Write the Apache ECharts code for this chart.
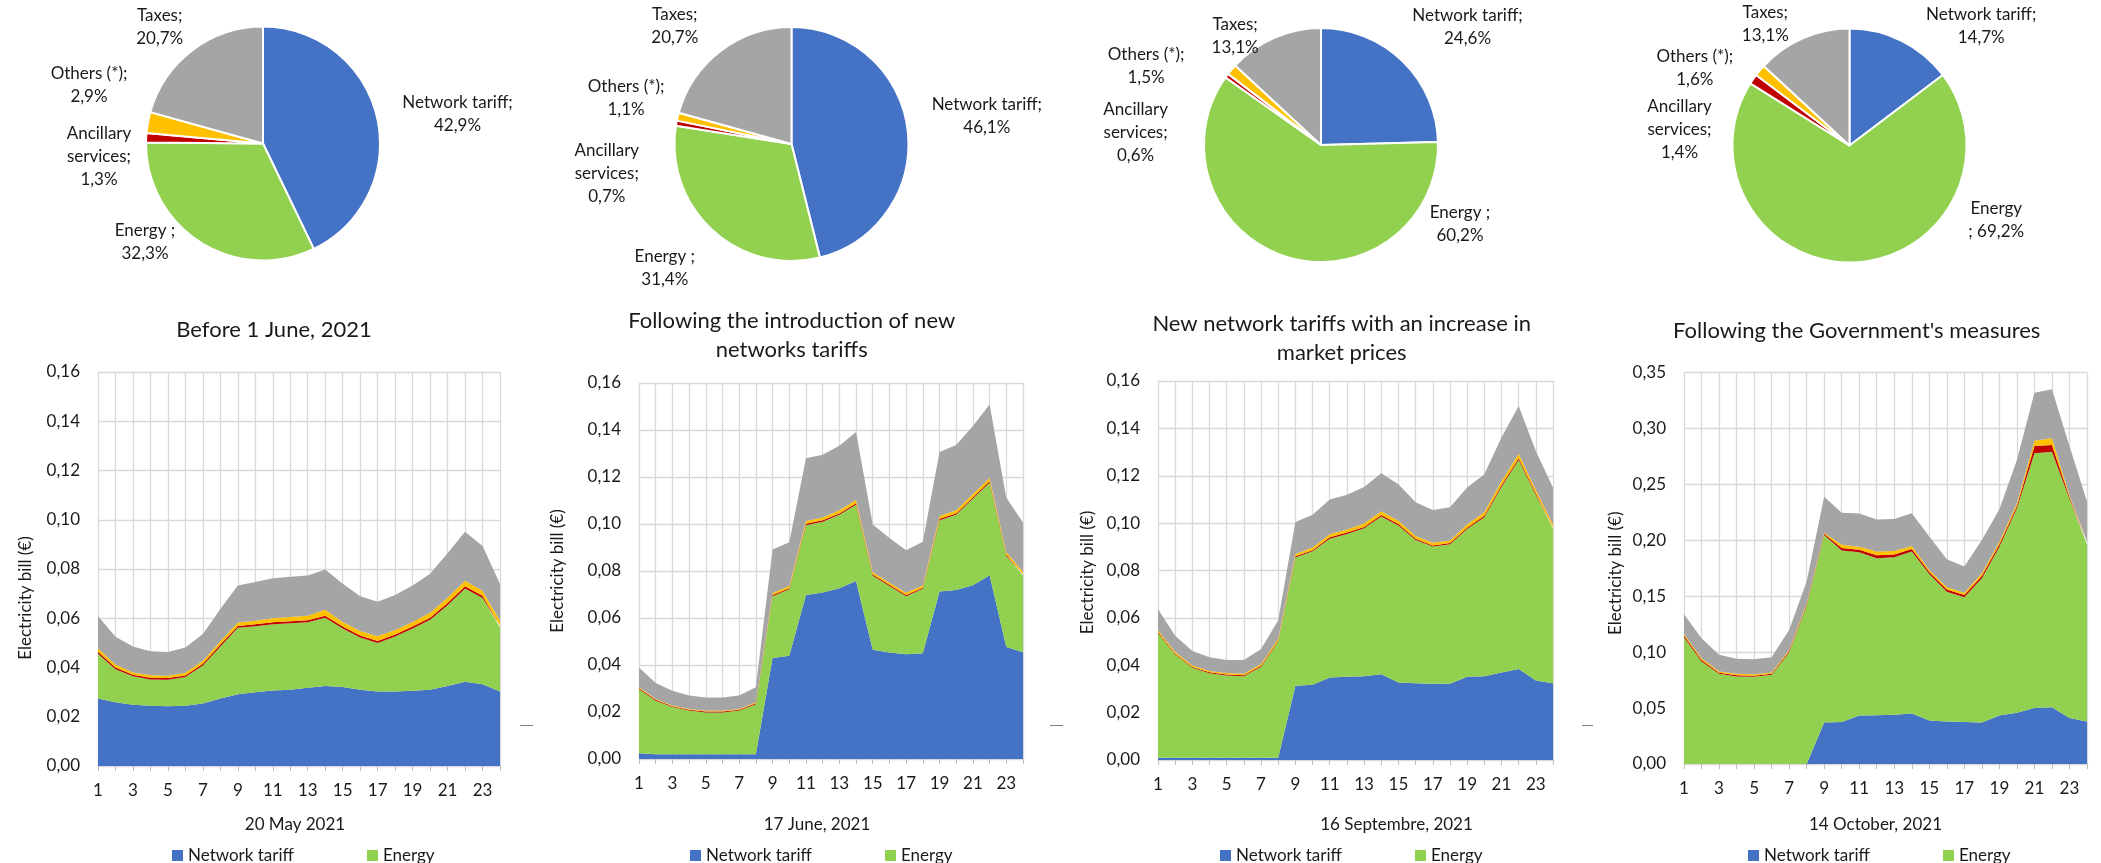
<!DOCTYPE html>
<html>
<head>
<meta charset="utf-8">
<title>Electricity bill components</title>
<script src="https://cdn.jsdelivr.net/npm/echarts@6/dist/echarts.min.js"></script>
<style>
  html, body { margin: 0; padding: 0; background: #ffffff; }
  #chart { width: 2101px; height: 863px; }
</style>
</head>
<body>
<div id="chart"></div>
<script>
// ---- Categories -------------------------------------------------------
const hours = ['1','2','3','4','5','6','7','8','9','10','11','12','13','14','15','16','17','18','19','20','21','22','23','24'];
const componentNames = ['Network tariff', 'Energy', 'Ancillary services', 'Others (*)', 'Taxes'];

// ---- Hourly bill components (€), 20 May 2021 -------------------------
const may20Network   = [0.0274,0.0259,0.0249,0.0245,0.0243,0.0245,0.0254,0.0274,0.0291,0.0300,0.0307,0.0310,0.0318,0.0325,0.0321,0.0310,0.0303,0.0303,0.0306,0.0310,0.0325,0.0342,0.0332,0.0303];
const may20Energy    = [0.0182,0.0134,0.0115,0.0106,0.0107,0.0116,0.0154,0.0211,0.0270,0.0268,0.0269,0.0270,0.0266,0.0277,0.0237,0.0212,0.0197,0.0223,0.0252,0.0284,0.0328,0.0379,0.0350,0.0259];
const may20Ancillary = [0.0008,0.0007,0.0007,0.0007,0.0007,0.0007,0.0007,0.0008,0.0008,0.0008,0.0008,0.0008,0.0008,0.0008,0.0008,0.0008,0.0008,0.0008,0.0008,0.0008,0.0009,0.0009,0.0009,0.0008];
const may20Others    = [0.0014,0.0012,0.0009,0.0011,0.0010,0.0011,0.0012,0.0014,0.0014,0.0014,0.0016,0.0017,0.0018,0.0025,0.0019,0.0018,0.0019,0.0018,0.0019,0.0020,0.0021,0.0022,0.0021,0.0020];
const may20Taxes     = [0.0131,0.0113,0.0105,0.0097,0.0096,0.0102,0.0109,0.0131,0.0150,0.0157,0.0162,0.0164,0.0164,0.0163,0.0155,0.0141,0.0140,0.0142,0.0148,0.0159,0.0181,0.0199,0.0181,0.0150];

// ---- Hourly bill components (€), 17 June 2021 ------------------------
const jun17Network   = [0.0025,0.0020,0.0020,0.0020,0.0020,0.0020,0.0020,0.0020,0.0430,0.0439,0.0698,0.0709,0.0727,0.0757,0.0465,0.0453,0.0446,0.0450,0.0713,0.0719,0.0739,0.0782,0.0477,0.0454];
const jun17Energy    = [0.0272,0.0228,0.0201,0.0186,0.0178,0.0178,0.0186,0.0213,0.0263,0.0283,0.0297,0.0301,0.0312,0.0325,0.0315,0.0283,0.0247,0.0274,0.0303,0.0320,0.0369,0.0394,0.0387,0.0328];
const jun17Ancillary = [0.0004,0.0004,0.0004,0.0004,0.0004,0.0004,0.0004,0.0004,0.0005,0.0005,0.0006,0.0006,0.0006,0.0006,0.0005,0.0005,0.0005,0.0005,0.0006,0.0006,0.0006,0.0006,0.0005,0.0005];
const jun17Others    = [0.0004,0.0003,0.0003,0.0003,0.0003,0.0003,0.0003,0.0004,0.0008,0.0009,0.0012,0.0012,0.0013,0.0014,0.0010,0.0009,0.0009,0.0009,0.0012,0.0013,0.0014,0.0014,0.0011,0.0010];
const jun17Taxes     = [0.0084,0.0068,0.0062,0.0057,0.0057,0.0057,0.0057,0.0064,0.0185,0.0186,0.0267,0.0267,0.0275,0.0289,0.0203,0.0190,0.0181,0.0187,0.0272,0.0278,0.0289,0.0313,0.0232,0.0209];

// ---- Hourly bill components (€), 16 September 2021 -------------------
const sep16Network   = [0.0009,0.0009,0.0009,0.0009,0.0009,0.0009,0.0009,0.0009,0.0313,0.0318,0.0348,0.0351,0.0354,0.0362,0.0327,0.0324,0.0322,0.0322,0.0351,0.0354,0.0369,0.0384,0.0336,0.0324];
const sep16Energy    = [0.0527,0.0436,0.0380,0.0357,0.0348,0.0345,0.0385,0.0491,0.0542,0.0563,0.0586,0.0603,0.0624,0.0666,0.0663,0.0605,0.0579,0.0589,0.0624,0.0671,0.0784,0.0883,0.0783,0.0652];
const sep16Ancillary = [0.0004,0.0004,0.0004,0.0004,0.0004,0.0004,0.0004,0.0005,0.0005,0.0005,0.0006,0.0006,0.0006,0.0006,0.0006,0.0005,0.0005,0.0005,0.0006,0.0006,0.0007,0.0007,0.0006,0.0006];
const sep16Others    = [0.0008,0.0007,0.0006,0.0006,0.0006,0.0006,0.0007,0.0008,0.0010,0.0011,0.0013,0.0013,0.0014,0.0016,0.0014,0.0012,0.0011,0.0011,0.0013,0.0015,0.0017,0.0019,0.0015,0.0012];
const sep16Taxes     = [0.0088,0.0069,0.0061,0.0058,0.0055,0.0058,0.0064,0.0077,0.0135,0.0138,0.0147,0.0147,0.0155,0.0161,0.0154,0.0142,0.0138,0.0140,0.0156,0.0160,0.0185,0.0201,0.0165,0.0156];

// ---- Hourly bill components (€), 14 October 2021 ---------------------
const oct14Network   = [0,0,0,0,0,0,0,0,0.0372,0.0375,0.0433,0.0436,0.0440,0.0452,0.0388,0.0379,0.0375,0.0372,0.0433,0.0459,0.0500,0.0507,0.0411,0.0379];
const oct14Energy    = [0.1134,0.0916,0.0806,0.0782,0.0779,0.0797,0.0996,0.1414,0.1676,0.1533,0.1460,0.1404,0.1409,0.1447,0.1311,0.1162,0.1116,0.1289,0.1510,0.1827,0.2278,0.2285,0.1959,0.1580];
const oct14Ancillary = [0.0014,0.0014,0.0010,0.0011,0.0011,0.0010,0.0011,0.0011,0.0010,0.0022,0.0022,0.0027,0.0025,0.0023,0.0017,0.0018,0.0019,0.0021,0.0021,0.0021,0.0065,0.0060,0.0015,0.0014];
const oct14Others    = [0.0015,0.0016,0.0011,0.0013,0.0013,0.0011,0.0013,0.0013,0.0010,0.0029,0.0028,0.0032,0.0031,0.0028,0.0019,0.0021,0.0022,0.0024,0.0024,0.0024,0.0047,0.0060,0.0016,0.0016];
const oct14Taxes     = [0.0176,0.0179,0.0149,0.0134,0.0134,0.0137,0.0179,0.0193,0.0322,0.0287,0.0296,0.0286,0.0286,0.0292,0.0298,0.0251,0.0233,0.0297,0.0289,0.0387,0.0429,0.0438,0.0442,0.0357];

// ---- Share of the daily bill per component (%) -----------------------
const sharesMay20 = [42.9, 32.3, 1.3, 2.9, 20.7];
const sharesJun17 = [46.1, 31.4, 0.7, 1.1, 20.7];
const sharesSep16 = [24.6, 60.2, 0.6, 1.5, 13.1];
const sharesOct14 = [14.7, 69.2, 1.4, 1.6, 13.1];

// ---- Texts ------------------------------------------------------------
const panelTitles = [
  'Before 1 June, 2021',
  'Following the introduction of new\nnetworks tariffs',
  'New network tariffs with an increase in\nmarket prices',
  "Following the Government's measures"
];
const dayLabels = ['20 May 2021', '17 June, 2021', '16 Septembre, 2021', '14 October, 2021'];
const yAxisTitle = 'Electricity bill (€)';
const yMaxima = [0.16, 0.16, 0.16, 0.35];
const yIntervals = [0.02, 0.02, 0.02, 0.05];

const pieLabelTemplates = [
  ['Network tariff;\n{v}', 'Energy ;\n{v}', 'Ancillary\nservices;\n{v}', 'Others (*);\n{v}', 'Taxes;\n{v}'],
  ['Network tariff;\n{v}', 'Energy ;\n{v}', 'Ancillary\nservices;\n{v}', 'Others (*);\n{v}', 'Taxes;\n{v}'],
  ['Network tariff;\n{v}', 'Energy ;\n{v}', 'Ancillary\nservices;\n{v}', 'Others (*);\n{v}', 'Taxes;\n{v}'],
  ['Network tariff;\n{v}', 'Energy\n; {v}', 'Ancillary\nservices;\n{v}', 'Others (*);\n{v}', 'Taxes;\n{v}']
];

// ---- Styling ------------------------------------------------------------
const FONT = 'Lato';
const TEXT_COLOR = '#1a1a1a';
const GRID_COLOR = '#d9d9d9';
const componentColors = ['#4472c4', '#92d050', '#c00000', '#ffc000', '#a5a5a5'];

const daySeries = [
  [may20Network, may20Energy, may20Ancillary, may20Others, may20Taxes],
  [jun17Network, jun17Energy, jun17Ancillary, jun17Others, jun17Taxes],
  [sep16Network, sep16Energy, sep16Ancillary, sep16Others, sep16Taxes],
  [oct14Network, oct14Energy, oct14Ancillary, oct14Others, oct14Taxes]
];
const dayShares = [sharesMay20, sharesJun17, sharesSep16, sharesOct14];

// Panel geometry (pixels)
const panelLayout = [
  { grid: { left: 98,   right: 1601, top: 372, bottom: 97 },
    pieCenter: [263, 143.5], titleX: 274, titleTop: 315.5,
    xNameGap: 50, xNamePad: [0, 8, 0, 0], yNameGap: 64, yNamePad: [0, 58, 0, 0], legendLeft: 167,
    labelOffsets: [[194.5, -29.7], [-118, 98.5], [-164, 13], [-174, -58.3], [-103.3, -116.3]] },
  { grid: { left: 639,  right: 1078, top: 383, bottom: 104 },
    pieCenter: [791.5, 144], titleX: 791.7, titleTop: 306,
    xNameGap: 57, xNamePad: [0, 28, 0, 0], yNameGap: 73, yNamePad: [0, 0, 0, 0], legendLeft: 685,
    labelOffsets: [[195.3, -27.7], [-126.7, 124.3], [-184.7, 29.6], [-165.4, -46.3], [-116.7, -118.3]] },
  { grid: { left: 1158, right: 548,  top: 381, bottom: 103 },
    pieCenter: [1321, 145], titleX: 1341.7, titleTop: 309,
    xNameGap: 56.5, xNamePad: [0, 0, 0, 82], yNameGap: 62, yNamePad: [0, 4, 0, 0], legendLeft: 1215,
    labelOffsets: [[146.5, -117.8], [139, 79.3], [-185.4, -12.9], [-174.9, -79], [-85.9, -109]] },
  { grid: { left: 1684, right: 14,   top: 372.5, bottom: 99 },
    pieCenter: [1849.5, 145.5], titleX: 1856.7, titleTop: 316.6,
    xNameGap: 52.5, xNamePad: [0, 20, 0, 0], yNameGap: 60, yNamePad: [0, 10, 0, 0], legendLeft: 1743,
    labelOffsets: [[131.7, -119.3], [146.7, 74.2], [-170, -16.3], [-154.7, -77], [-84.2, -121.2]] }
];

// Legend columns sit 195 px apart: icon (11) + text gap (5) + text + item gap
const LEGEND_COLUMN = 195;
function textWidth(str, size) {
  const ctx = document.createElement('canvas').getContext('2d');
  ctx.font = size + 'px ' + FONT;
  return ctx.measureText(str).width;
}
const legendGap = Math.max(10, LEGEND_COLUMN - 16 - textWidth(componentNames[0], 17));

function commaNumber(v, digits) {
  return v.toFixed(digits).replace('.', ',');
}

const grids = [], xAxes = [], yAxes = [], series = [], titles = [], legends = [];

panelLayout.forEach((p, i) => {
  grids.push(Object.assign({ containLabel: false }, p.grid));

  titles.push({
    text: panelTitles[i],
    left: p.titleX, top: p.titleTop, textAlign: 'center', padding: 0,
    textStyle: { fontFamily: FONT, fontSize: 22, fontWeight: 'normal', color: TEXT_COLOR, lineHeight: 29.5 }
  });

  xAxes.push({
    type: 'category', gridIndex: i, data: hours, boundaryGap: false,
    axisLine: { lineStyle: { color: GRID_COLOR, width: 1 } },
    axisTick: { show: true, interval: 0, length: 5, lineStyle: { color: '#bfbfbf' } },
    axisLabel: { interval: 1, margin: 16, fontFamily: FONT, fontSize: 17, color: TEXT_COLOR },
    splitLine: { show: true, interval: 0, lineStyle: { color: GRID_COLOR, width: 1.3 } },
    name: dayLabels[i], nameLocation: 'middle', nameGap: p.xNameGap,
    nameTextStyle: { fontFamily: FONT, fontSize: 17, color: TEXT_COLOR, padding: p.xNamePad }
  });

  yAxes.push({
    type: 'value', gridIndex: i, min: 0, max: yMaxima[i], interval: yIntervals[i],
    axisLine: { show: false }, axisTick: { show: false },
    axisLabel: { margin: 18, fontFamily: FONT, fontSize: 17, color: TEXT_COLOR,
                 formatter: v => commaNumber(v, 2) },
    splitLine: { show: true, lineStyle: { color: GRID_COLOR, width: 1.3 } },
    name: yAxisTitle, nameLocation: 'middle', nameGap: p.yNameGap,
    nameTextStyle: { fontFamily: FONT, fontSize: 17, color: TEXT_COLOR, padding: p.yNamePad }
  });

  componentNames.forEach((name, k) => {
    series.push({
      type: 'line', name: name, xAxisIndex: i, yAxisIndex: i, stack: 'bill' + i,
      data: daySeries[i][k], symbol: 'none', silent: true,
      color: componentColors[k],
      lineStyle: { width: 0, opacity: 0 },
      areaStyle: { color: componentColors[k], opacity: 1 },
      emphasis: { disabled: true }
    });
  });

  const cx = p.pieCenter[0], cy = p.pieCenter[1];
  series.push({
    type: 'pie', name: 'share' + i, center: p.pieCenter, radius: 117,
    startAngle: 90, clockwise: true, avoidLabelOverlap: false, silent: true,
    itemStyle: { borderColor: '#ffffff', borderWidth: 2 },
    emphasis: { disabled: true },
    data: componentNames.map((name, k) => ({
      name: name, value: dayShares[i][k], itemStyle: { color: componentColors[k] }
    })),
    label: {
      show: true, position: 'outside', fontFamily: FONT, fontSize: 17, lineHeight: 23,
      color: TEXT_COLOR,
      formatter: params => pieLabelTemplates[i][params.dataIndex]
        .replace('{v}', commaNumber(params.value, 1) + '%')
    },
    labelLine: { show: false },
    labelLayout: params => ({
      x: cx + p.labelOffsets[params.dataIndex][0],
      y: cy + p.labelOffsets[params.dataIndex][1],
      align: 'center', verticalAlign: 'middle'
    })
  });

  // Two legend entries per row; the lower rows run past the bottom edge
  legends.push({
    left: p.legendLeft, top: 842, width: 400, orient: 'horizontal',
    itemWidth: 11, itemHeight: 11, itemGap: legendGap, icon: 'rect', selectedMode: false,
    textStyle: { fontFamily: FONT, fontSize: 17, color: TEXT_COLOR },
    data: componentNames
  });
});

// Small separators between the panels
const separators = [[520, 533], [1050, 1063], [1582, 1593]].map(s => ({
  type: 'line', silent: true,
  shape: { x1: s[0], y1: 725.5, x2: s[1], y2: 725.5 },
  style: { stroke: '#7f7f7f', lineWidth: 1 }
}));

const chart = echarts.init(document.getElementById('chart'), null, { renderer: 'canvas' });
chart.setOption({
  backgroundColor: '#ffffff',
  animation: false,
  textStyle: { fontFamily: FONT },
  title: titles,
  legend: legends,
  grid: grids,
  xAxis: xAxes,
  yAxis: yAxes,
  series: series,
  graphic: separators
});
</script>
</body>
</html>
